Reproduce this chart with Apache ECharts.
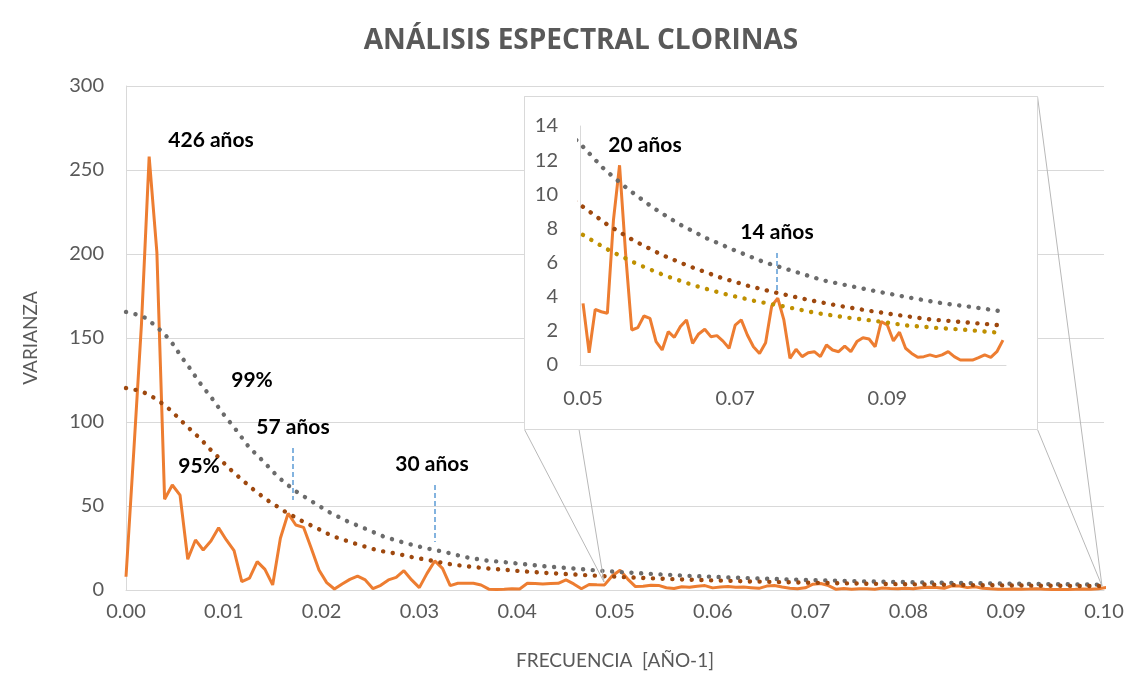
<!DOCTYPE html>
<html><head><meta charset="utf-8">
<script src="https://cdn.jsdelivr.net/npm/echarts@6/dist/echarts.min.js"></script>
<style>html,body{margin:0;padding:0;background:#fff}#c{width:1137px;height:692px}</style>
</head><body><div id="c"></div>
<script>
// Spectral resolution (frequency step between estimates, año^-1)
const FREQ_STEP = 1 / 1267;
// First spectral index shown in the inset
const INSET_START = 58;

// Spectral variance, index k = 0 .. 127
const varianza = [
  7.9, 82, 158, 258, 201, 54, 62.5, 56.5, 18.3, 29.8,
  23.8, 29.2, 37, 29.8, 23.4, 5, 7, 16.9, 12.3, 3,
  30.8, 45.6, 38.7, 37.3, 24.8, 11.9, 4.4, 0.6, 3.6, 6.3,
  8.3, 6, 0.8, 2.8, 6, 7.5, 11.5, 6, 1.4, 9.9,
  17.3, 12.9, 2.6, 4, 4, 4, 3, 0.5, 0.3, 0.5,
  0.8, 0.6, 4, 3.8, 3.5, 3.8, 4, 6,
  3.61, 0.72, 3.26, 3.12, 3.03, 8.5, 11.7, 6.5, 2.05, 2.19,
  2.87, 2.73, 1.37, 0.88, 1.95, 1.62, 2.25, 2.64, 1.27, 1.82,
  2.09, 1.66, 1.72, 1.4, 0.98, 2.34, 2.64, 1.76, 1.07, 0.68,
  1.31, 3.46, 3.91, 2.64, 0.39, 0.92, 0.49, 0.72, 0.78, 0.49,
  1.17, 0.88, 0.78, 1.11, 0.78, 1.37, 1.6, 1.52, 1.07, 2.54,
  2.34, 1.41, 1.92, 0.98, 0.68, 0.45, 0.49, 0.59, 0.49, 0.59,
  0.78, 0.49, 0.29, 0.29, 0.29, 0.43, 0.59, 0.45, 0.78, 1.46
];

// Confidence levels [frecuencia, varianza]
const umbral99 = [
  [0,165.5],[0.00107,164],[0.00201,162],[0.00286,158],[0.00363,154],[0.0043,150],
  [0.00498,145],[0.00562,139],[0.00629,134],[0.00746,124],[0.0088,114],[0.00992,105],
  [0.01135,94.6],[0.01258,85],[0.014,76.8],[0.01554,67.3],[0.01718,59.5],[0.01892,53],
  [0.02076,46.4],[0.0226,41],[0.02454,36.3],[0.02648,31.5],[0.02853,28],[0.03057,25],
  [0.03262,22.6],[0.03466,19.6],[0.03681,17.6],[0.0388,16.5],[0.0408,15.3],[0.0428,14.1],
  [0.04576,12.79],[0.04849,11.48],[0.0516,10.3],[0.05484,9.22],[0.05821,8.26],[0.06182,7.42],
  [0.06553,6.7],[0.06921,6.03],[0.07305,5.5],[0.0769,4.96],[0.0808,4.59],[0.08468,4.24],
  [0.08857,3.91],[0.09247,3.61],[0.09649,3.38],[0.10013,3.14]
];
const umbral95 = [
  [0,120.2],[0.00109,119],[0.0021,117],[0.00297,114],[0.00379,110.7],[0.00467,106.5],
  [0.00542,102],[0.00621,97.6],[0.00695,93.5],[0.00774,89.3],[0.00838,85],[0.0092,80.4],
  [0.00989,76.3],[0.01063,72],[0.01142,67.9],[0.01224,63.7],[0.01299,60],[0.01388,56],
  [0.01472,52.4],[0.01554,49.4],[0.01643,46],[0.01746,42.9],[0.0183,40],[0.01933,37.5],
  [0.02025,34.5],[0.02117,32],[0.02219,30],[0.02321,28],[0.02423,26.2],[0.02526,24.4],
  [0.02628,23],[0.0273,22],[0.02832,20.8],[0.02935,19.4],[0.03037,18.4],[0.03139,17.3],
  [0.03241,16.1],[0.03344,15.1],[0.03446,14.4],[0.03548,13.7],[0.0365,13.1],[0.03773,12.5],
  [0.04,11.4],[0.0428,10.2],[0.04576,9.27],[0.049,8.2],[0.05247,7.26],[0.05605,6.44],
  [0.05969,5.76],[0.0635,5.14],[0.06726,4.63],[0.07116,4.2],[0.07505,3.81],[0.07895,3.47],
  [0.08284,3.18],[0.08686,2.91],[0.09083,2.67],[0.09485,2.52],[0.10005,2.32]
];
const umbral90 = [
  [0.04576,7.62],[0.04922,6.7],[0.05277,5.92],[0.05644,5.23],[0.06026,4.65],[0.06415,4.16],
  [0.06804,3.75],[0.07194,3.42],[0.07583,3.06],[0.0798,2.79],[0.0837,2.58],[0.08772,2.32],
  [0.09174,2.17],[0.09572,2.05],[0.09971,1.89]
];

const TITLE = 'ANÁLISIS ESPECTRAL CLORINAS';
const X_NAME = 'FRECUENCIA  [AÑO-1]';
const Y_NAME = 'VARIANZA';

const frecuencia = varianza.map((_, k) => k * FREQ_STEP);
const mainData = frecuencia.map((f, k) => [f, varianza[k]]);
const insetCats = frecuencia.slice(INSET_START).map(f => f.toFixed(4));
const insetVals = varianza.slice(INSET_START);

const FONT = 'Lato';
const GRID_C = '#d9d9d9';
const TXT_C = '#595959';
const ORANGE = '#ED7D31', GRAY = '#6b6b6b', BROWN = '#9E480E', GOLD = '#BF9000';
const dotted = c => ({ color: c, width: 4.4, type: [0.1, 9.6], cap: 'round' });

const chart = echarts.init(document.getElementById('c'), null, { renderer: 'canvas' });

const lbl = (txt, x, y) => ({
  type: 'text', z: 200, x, y,
  style: { text: txt, fill: '#000', font: 'bold 21px ' + FONT, textAlign: 'center', textVerticalAlign: 'middle' }
});
const dash = (x, y1, y2) => ({
  type: 'line', z: 200, shape: { x1: x, y1, x2: x, y2 },
  style: { stroke: '#5B9BD5', lineWidth: 1.5, lineDash: [5, 3] }
});
const conn = (x1, y1, x2, y2) => ({
  type: 'line', z: 10, shape: { x1, y1, x2, y2 }, style: { stroke: '#b8b8b8', lineWidth: 1 }
});
const curve = (name, xi, yi, data, color, z) => ({
  name, type: 'line', xAxisIndex: xi, yAxisIndex: yi, data, smooth: false,
  showSymbol: false, lineStyle: dotted(color), z
});

chart.setOption({
  animation: false,
  textStyle: { fontFamily: FONT },
  title: {
    text: TITLE, left: 576, top: 22, textAlign: 'center',
    textStyle: { fontFamily: 'Open Sans', fontSize: 28, fontWeight: 'bold', color: TXT_C }
  },
  grid: [
    { left: 126, top: 86, width: 978, height: 504 },
    { left: 580, top: 126, width: 426, height: 239 }
  ],
  xAxis: [
    {
      gridIndex: 0, type: 'value', min: 0, max: 0.1, interval: 0.01,
      axisLine: { show: true, lineStyle: { color: GRID_C, width: 1 } },
      axisTick: { show: false }, splitLine: { show: false },
      axisLabel: { formatter: v => v.toFixed(2), color: TXT_C, fontSize: 20, margin: 12 },
      name: X_NAME, nameLocation: 'middle', nameGap: 61,
      nameTextStyle: { color: TXT_C, fontSize: 19 }
    },
    {
      gridIndex: 1, type: 'category', data: insetCats, boundaryGap: true, z: 100,
      axisLine: { show: true, lineStyle: { color: GRID_C, width: 1 } },
      axisTick: { show: false }, splitLine: { show: false },
      axisLabel: { interval: 24, formatter: v => Number(v).toFixed(2), color: TXT_C, fontSize: 20, margin: 24 }
    },
    {
      gridIndex: 1, type: 'value', show: false,
      min: (INSET_START - 0.5) * FREQ_STEP, max: (varianza.length - 0.5) * FREQ_STEP
    }
  ],
  yAxis: [
    {
      gridIndex: 0, type: 'value', min: 0, max: 300, interval: 50,
      axisLine: { show: true, lineStyle: { color: GRID_C, width: 1 } },
      axisTick: { show: false },
      splitLine: { show: true, lineStyle: { color: GRID_C, width: 1 } },
      axisLabel: { color: TXT_C, fontSize: 20, margin: 22 },
      name: Y_NAME, nameLocation: 'middle', nameGap: 86,
      nameTextStyle: { color: TXT_C, fontSize: 19 }
    },
    {
      gridIndex: 1, type: 'value', min: 0, max: 14, interval: 2, z: 100,
      axisLine: { show: true, lineStyle: { color: GRID_C, width: 1 } },
      axisTick: { show: false }, splitLine: { show: false },
      axisLabel: { color: TXT_C, fontSize: 20, margin: 22 }
    }
  ],
  series: [
    { name: 'Varianza', type: 'line', xAxisIndex: 0, yAxisIndex: 0, data: mainData,
      showSymbol: false, lineStyle: { color: ORANGE, width: 3 }, z: 2 },
    curve('99%', 0, 0, umbral99, GRAY, 3),
    curve('95%', 0, 0, umbral95, BROWN, 3),
    { name: 'Varianza (detalle)', type: 'line', xAxisIndex: 1, yAxisIndex: 1, data: insetVals,
      showSymbol: false, lineStyle: { color: ORANGE, width: 3 }, z: 100 },
    curve('99% (detalle)', 2, 1, umbral99, GRAY, 101),
    curve('95% (detalle)', 2, 1, umbral95, BROWN, 101),
    curve('90% (detalle)', 2, 1, umbral90, GOLD, 101)
  ],
  graphic: [
    conn(524.5, 96.5, 604, 582), conn(524.5, 429.5, 604, 582),
    conn(1037.5, 96.5, 1102, 586), conn(1037.5, 429.5, 1102, 586),
    { type: 'rect', z: 50, shape: { x: 524.5, y: 96.5, width: 513, height: 333 },
      style: { fill: '#fff', stroke: GRID_C, lineWidth: 1 } },
    lbl('426 años', 211, 140),
    lbl('99%', 252, 380),
    lbl('95%', 199, 466),
    lbl('57 años', 293, 427),
    lbl('30 años', 432, 464),
    lbl('20 años', 645, 145),
    lbl('14 años', 777, 232),
    dash(293, 448, 500), dash(435, 485, 542), dash(777, 253, 293)
  ]
});
</script></body></html>
